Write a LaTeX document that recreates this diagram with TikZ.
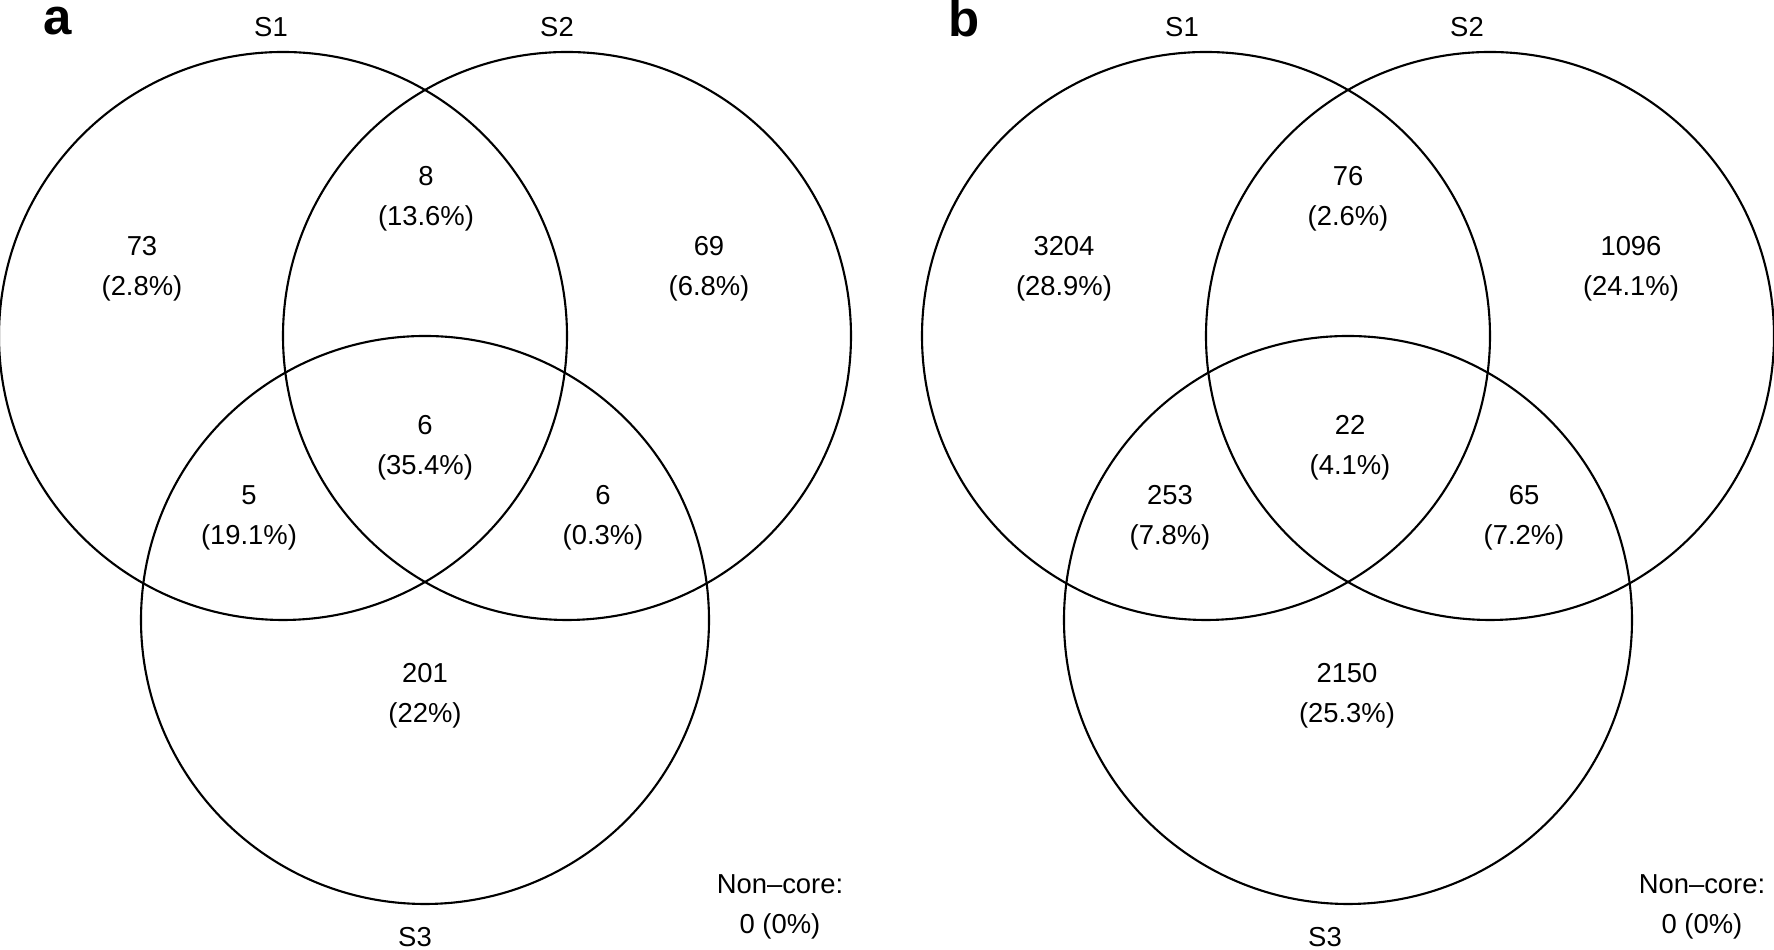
\documentclass[tikz,border=0pt]{standalone}
\usepackage{fontspec}
\setmainfont{Liberation Sans}
\begin{document}
\begin{tikzpicture}[semithick,
  num/.style={align=center,font=\fontsize{7.8}{11.4}\selectfont},
  setname/.style={inner sep=0.5pt,font=\fontsize{7.8}{9}\selectfont},
  panel/.style={inner sep=0.5pt,font=\fontsize{14.5}{16}\selectfont\bfseries}]
\useasboundingbox (0,0) rectangle (17.74,9.5);
% panel a
\node[panel] (pa) at (0.58,9.285) {a};
\draw (2.83,6.14) circle (2.84);
\draw (5.67,6.14) circle (2.84);
\draw (4.25,3.30) circle (2.84);
\node[setname] (aS1) at (2.71,9.23) {S1};
\node[setname] (aS2) at (5.57,9.23) {S2};
\node[setname] (aS3) at (4.15,0.13) {S3};
\node[num] (a1)   at (1.42,6.81)  {73\\(2.8\%)};
\node[num] (a12)  at (4.26,7.51)  {8\\(13.6\%)};
\node[num] (a2)   at (7.09,6.81)  {69\\(6.8\%)};
\node[num] (a123) at (4.25,5.025) {6\\(35.4\%)};
\node[num] (a13)  at (2.49,4.32)  {5\\(19.1\%)};
\node[num] (a23)  at (6.03,4.32)  {6\\(0.3\%)};
\node[num] (a3)   at (4.25,2.545) {201\\(22\%)};
\node[num] (anc)  at (7.80,0.43)  {Non\textendash core:\\0 (0\%)};
% panel b
\node[panel] (pb) at (9.64,9.315) {b};
\draw (12.06,6.14) circle (2.84);
\draw (14.90,6.14) circle (2.84);
\draw (13.48,3.30) circle (2.84);
\node[setname] (bS1) at (11.82,9.23) {S1};
\node[setname] (bS2) at (14.67,9.23) {S2};
\node[setname] (bS3) at (13.25,0.13) {S3};
\node[num] (b1)   at (10.64,6.81)  {3204\\(28.9\%)};
\node[num] (b12)  at (13.48,7.51)  {76\\(2.6\%)};
\node[num] (b2)   at (16.31,6.81)  {1096\\(24.1\%)};
\node[num] (b123) at (13.50,5.025) {22\\(4.1\%)};
\node[num] (b13)  at (11.70,4.32)  {253\\(7.8\%)};
\node[num] (b23)  at (15.24,4.32)  {65\\(7.2\%)};
\node[num] (b3)   at (13.47,2.545) {2150\\(25.3\%)};
\node[num] (bnc)  at (17.02,0.43)  {Non\textendash core:\\0 (0\%)};
\end{tikzpicture}
\end{document}
